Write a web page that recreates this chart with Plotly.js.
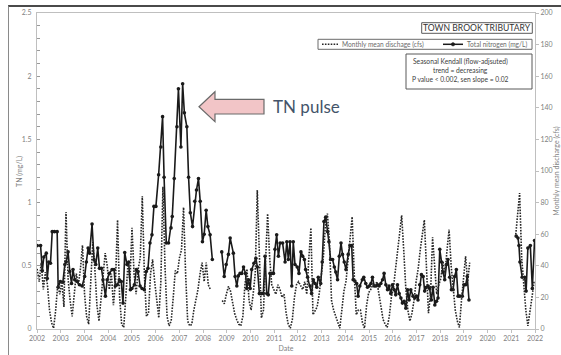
<!DOCTYPE html>
<html>
<head>
<meta charset="utf-8">
<script src="https://cdn.plot.ly/plotly-3.0.1.min.js"></script>
<style>
  html, body { margin: 0; padding: 0; background: #fff; overflow: hidden; }
  #wrap { position: relative; width: 561px; height: 355px; }
  #chart { width: 561px; height: 355px; }
  #frame { position: absolute; left: 8px; top: 5px; width: 600px; height: 400px;
           border-left: 1px solid #8a8a8a; border-top: 2px solid #4a4a4a; pointer-events: none; }
</style>
</head>
<body>
<div id="wrap"><div id="chart"></div><div id="frame"></div></div>
<script>
// ---- Axis labels -------------------------------------------------------
const xTickLabels = ['2002','2003','2004','2004','2005','2006','2007','2008','2009','2010','2011',
                     '2012','2013','2014','2015','2016','2017','2018','2019','2020','2021','2022'];

// ---- Total nitrogen (mg/L), sample dates in decimal years ---------------
const tnYearsA = [2002.09,2002.23,2002.30,2002.36,2002.46,2002.50,2002.56,2002.63,2002.70,2002.79,
  2002.90,2002.94,2003.03,2003.13,2003.21,2003.26,2003.34,2003.41,2003.48,2003.54,
  2003.61,2003.71,2003.80,2003.91,2004.01,2004.08,2004.15,2004.21,2004.31,2004.39,
  2004.46,2004.54,2004.61,2004.69,2004.75,2004.85,2004.92,2005.01,2005.12,2005.20,
  2005.25,2005.33,2005.41,2005.49,2005.56,2005.63,2005.72,2005.79,2005.86,2005.92,
  2006.02,2006.10,2006.17,2006.25,2006.33,2006.42,2006.50,2006.57,2006.65,2006.73,
  2006.81,2006.89,2007.00,2007.09,2007.16,2007.22,2007.31,2007.40,2007.50,2007.55,
  2007.63,2007.74,2007.80,2007.90,2007.97,2008.04,2008.14,2008.21,2008.28,2008.37,
  2008.46,2008.53,2008.61,2008.68,2008.77,2008.84,2008.92,2008.99,2009.08,2009.17];
const tnValuesA = [0.66,0.66,0.46,0.57,0.60,0.40,0.53,0.52,0.77,0.77,
  0.77,0.33,0.376,0.37,0.51,0.53,0.61,0.455,0.36,0.47,
  0.39,0.376,0.35,0.34,0.415,0.53,0.64,0.60,0.83,0.547,
  0.51,0.64,0.48,0.48,0.39,0.26,0.39,0.44,0.47,0.47,
  0.34,0.35,0.39,0.376,0.205,0.605,0.51,0.53,0.31,0.32,
  0.35,0.47,0.455,0.34,0.32,0.31,0.455,0.48,0.68,0.745,
  0.97,0.97,1.22,1.44,1.68,1.20,0.68,0.68,0.80,0.89,
  1.19,1.60,1.90,1.44,1.94,1.71,1.60,1.20,0.92,0.81,
  1.01,1.10,1.19,1.01,0.69,0.75,0.94,0.81,0.745,0.55];

const tnYearsB = [2009.55,2009.65,2009.73,2009.82,2009.89,2010.02,2010.09,2010.16,2010.22,2010.29,
  2010.36,2010.43,2010.51,2010.56,2010.63,2010.70,2010.76,2010.85,2010.93,2010.99,
  2011.07,2011.15,2011.23,2011.30,2011.37,2011.43,2011.50,2011.57,2011.64,2011.70,
  2011.77,2011.84,2011.91,2012.01,2012.11,2012.18,2012.24,2012.31,2012.38,2012.44,
  2012.51,2012.60,2012.67,2012.75,2012.82,2012.89,2012.94,2013.02,2013.12,2013.18,
  2013.25,2013.32,2013.39,2013.45,2013.55,2013.61,2013.68,2013.75,2013.83,2013.88,
  2013.95,2014.03,2014.10,2014.16,2014.23,2014.30,2014.37,2014.43,2014.50,2014.57,
  2014.66,2014.73,2014.80,2014.86,2014.93,2015.00,2015.06,2015.13,2015.23,2015.29,
  2015.37,2015.44,2015.51,2015.58,2015.64,2015.71,2015.78,2015.85,2015.91,2015.98,
  2016.05,2016.11,2016.18,2016.25,2016.31,2016.38,2016.45,2016.52,2016.58,2016.65,
  2016.72,2016.79,2016.85,2016.92,2016.99,2017.06,2017.12,2017.19,2017.28,2017.35,
  2017.42,2017.48,2017.55,2017.62,2017.69,2017.75,2017.82,2017.89,2017.95,2018.02,
  2018.09,2018.16,2018.23,2018.29,2018.36,2018.43,2018.49,2018.56,2018.63,2018.69,
  2018.76,2018.83,2018.90,2018.96,2019.03,2019.10,2019.17,2019.27,2019.34,2019.41,
  2019.47,2019.54];
const tnValuesB = [0.61,0.415,0.51,0.59,0.72,0.60,0.415,0.34,0.42,0.44,
  0.44,0.49,0.44,0.32,0.39,0.32,0.47,0.52,0.56,0.49,
  0.28,0.28,0.28,0.575,0.28,0.27,0.44,0.44,0.44,0.63,
  0.745,0.575,0.68,0.68,0.53,0.69,0.55,0.69,0.34,0.69,
  0.51,0.49,0.44,0.61,0.575,0.55,0.47,0.41,0.34,0.28,
  0.39,0.36,0.33,0.41,0.36,0.53,0.85,0.885,0.77,0.69,
  0.55,0.55,0.49,0.45,0.39,0.575,0.68,0.59,0.53,0.47,
  0.59,0.66,0.66,0.39,0.38,0.36,0.26,0.34,0.39,0.41,
  0.36,0.33,0.34,0.36,0.41,0.34,0.34,0.35,0.34,0.36,
  0.39,0.44,0.35,0.31,0.34,0.28,0.35,0.31,0.27,0.35,
  0.28,0.245,0.205,0.22,0.165,0.31,0.23,0.31,0.26,0.245,
  0.26,0.23,0.35,0.43,0.415,0.30,0.33,0.34,0.32,0.23,
  0.33,0.19,0.22,0.245,0.63,0.53,0.45,0.39,0.51,0.55,
  0.41,0.31,0.31,0.415,0.47,0.26,0.26,0.26,0.35,0.35,
  0.415,0.23];

const tnYearsC  = [2021.45,2021.52,2021.56,2021.60,2021.69,2021.79,2021.85,2021.92,2022.02,2022.10,2022.19];
const tnValuesC = [0.735,0.72,0.66,0.53,0.41,0.41,0.30,0.64,0.66,0.32,0.70];

// ---- Monthly mean discharge (cfs), one value per month from the start date ----
const flowStartA = 2002.09;
const flowA = [38,30,42,25,36,28,12,4,0.5,12,
  28,22,30,14,74,32,18,8,22,35,
  28,38,53,22,8,3,30,55,38,15,
  5,20,35,48,40,25,35,15,30,69,
  20,3,1,22,40,30,64,35,22,38,
  45,84,35,8,10,35,44,30,18,7,
  30,90,40,8,2,5,20,37,35,45,
  50,77,35,5,2,3,12,18,25,35,
  42,30,42,28,25];

const flowStartB = 2009.57;
const flowB = [18,16,22,27,24,17,10,6,3,2,
  8,28,38,18,12,22,35,88,40,7,
  12,38,73,45,28,25,22,28,25,20,
  22,10,3,0.5,6,20,28,30,27,25,
  30,22,45,64,9,12,14,22,32,45,
  65,73,55,18,12,8,3,0.5,12,24,
  30,45,58,71,35,9,12,12,4,0.5,
  15,23,25,28,27,30,22,14,6,3,
  1,8,20,26,38,52,64,72,50,26,
  12,5,10,18,30,38,50,60,69,40,
  10,22,58,40,22,28,32,43,35,50,
  63,40,25,12,5,1,18,30,46,30,42];

const flowStartC = 2021.42;
const flowC = [58,72,86,45,28,12,2,10,20,30];

// ---- Layout geometry -----------------------------------------------------
const W = 561, H = 355;
const M = { l: 37, r: 26, t: 13, b: 26 };
const plotW = W - M.l - M.r, plotH = H - M.t - M.b;
const fx = p => (p - M.l) / plotW;            // pixel column -> paper x
const fy = p => (M.t + plotH - p) / plotH;    // pixel row -> paper y

const axisStart = 2002.085;                   // first major unit on the date axis
const tickStep = 350 / 365.25;                // major unit of 350 days
const tickVals = xTickLabels.map((_, i) => axisStart + i * tickStep);
const axisEnd = axisStart + (xTickLabels.length - 1) * tickStep;

const monthly = (start, vals) => vals.map((_, i) => start + i / 12);

const FONT = 'Lato, "Open Sans", "DejaVu Sans", sans-serif';
const AXIS_GREY = '#bfbfbf', LABEL_GREY = '#7f7f7f', INK = '#1a1a1a';

const flowStyle = { color: '#262626', width: 1.6, dash: '1.6px,1.3px' };
const tnLine = { color: INK, width: 1.6 };
const tnMarker = { size: 3.6, color: INK };

const flowTrace = (start, vals) => ({
  x: monthly(start, vals), y: vals, yaxis: 'y2', type: 'scatter', mode: 'lines',
  line: flowStyle, showlegend: false, hoverinfo: 'skip'
});
const tnTrace = (xs, ys) => ({
  x: xs, y: ys, type: 'scatter', mode: 'lines+markers',
  line: tnLine, marker: tnMarker, showlegend: false, hoverinfo: 'skip'
});

const data = [
  flowTrace(flowStartA, flowA), flowTrace(flowStartB, flowB), flowTrace(flowStartC, flowC),
  tnTrace(tnYearsA, tnValuesA), tnTrace(tnYearsB, tnValuesB), tnTrace(tnYearsC, tnValuesC)
];

// ---- Boxes, custom legend and call-out arrow ------------------------------
const rect = (x0, y0, x1, y1, color) => ({
  type: 'rect', xref: 'paper', yref: 'paper',
  x0: fx(x0), x1: fx(x1), y0: fy(y1), y1: fy(y0),
  line: { color: color, width: 1 }, fillcolor: '#ffffff', layer: 'above'
});
const hline = (x0, x1, y, line) => ({
  type: 'line', xref: 'paper', yref: 'paper',
  x0: fx(x0), x1: fx(x1), y0: fy(y), y1: fy(y), line: line, layer: 'above'
});

const arrowPts = [[199,106.7],[215,91.7],[215,99.3],[264,99.3],[264,114],[215,114],[215,121.7]];
const arrowPath = 'M' + arrowPts.map(p => fx(p[0]).toFixed(4) + ',' + fy(p[1]).toFixed(4)).join(' L') + ' Z';

const shapes = [
  rect(421.7, 22.7, 532.3, 33.3, '#595959'),
  rect(318, 39.3, 532, 49.3, '#6b6b6b'),
  rect(406, 54, 532, 89, '#595959'),
  hline(322, 338, 44.3, flowStyle),
  hline(443, 463, 44.3, { color: INK, width: 1.5 }),
  { type: 'circle', xref: 'paper', yref: 'paper', layer: 'above',
    x0: fx(451.3), x1: fx(454.7), y0: fy(46), y1: fy(42.6),
    fillcolor: INK, line: { color: INK, width: 0.5 } },
  { type: 'path', xref: 'paper', yref: 'paper', path: arrowPath, layer: 'above',
    fillcolor: '#f2c5c7', line: { color: '#6a6a6a', width: 1.2 } }
];

const note = (text, x, y, size, color, anchor, angle) => ({
  text: text, xref: 'paper', yref: 'paper', x: fx(x), y: fy(y),
  xanchor: anchor || 'center', yanchor: 'middle', showarrow: false, textangle: angle || 0,
  font: { family: FONT, size: size, color: color }
});

const annotations = [
  note('TOWN BROOK TRIBUTARY', 477, 28.2, 8.6, '#333333'),
  note('Monthly mean dischage (cfs)', 340, 44.3, 6.6, '#6b6b6b', 'left'),
  note('Total nitrogen (mg/L)', 465, 44.3, 6.6, '#6b6b6b', 'left'),
  note('Seasonal Kendall (flow-adjsuted)', 460, 61.7, 6.7, '#404040'),
  note('trend = decreasing', 460, 70.3, 6.7, '#404040'),
  note('P value < 0.002, sen slope = 0.02', 460, 79.5, 6.7, '#404040'),
  note('TN pulse', 271, 106.5, 17, '#44546a', 'left'),
  note('TN (mg/L)', 19, 172, 7, LABEL_GREY, 'center', -90)
];

const layout = {
  width: W, height: H,
  margin: M,
  paper_bgcolor: '#ffffff', plot_bgcolor: '#ffffff',
  font: { family: FONT, size: 7, color: LABEL_GREY },
  showlegend: false,
  xaxis: {
    range: [axisStart, axisEnd], tickvals: tickVals, ticktext: xTickLabels,
    showline: true, mirror: true, linecolor: AXIS_GREY, linewidth: 1,
    ticks: 'outside', ticklen: 3, tickcolor: AXIS_GREY,
    showgrid: false, zeroline: false, automargin: false,
    tickfont: { family: FONT, size: 7, color: LABEL_GREY },
    title: { text: 'Date', font: { family: FONT, size: 7, color: LABEL_GREY }, standoff: 4 }
  },
  yaxis: {
    range: [0, 2.5], dtick: 0.5, tick0: 0,
    showline: true, linecolor: AXIS_GREY, linewidth: 1,
    ticks: 'inside', ticklen: 3, tickcolor: '#9a9a9a',
    minor: { dtick: 0.1, ticks: 'inside', ticklen: 3, tickcolor: '#9a9a9a' },
    showgrid: false, zeroline: false, automargin: false, ticklabelstandoff: 3,
    tickfont: { family: FONT, size: 7, color: LABEL_GREY }
  },
  yaxis2: {
    overlaying: 'y', side: 'right', range: [0, 200], dtick: 20, tick0: 0,
    showline: true, linecolor: AXIS_GREY, linewidth: 1,
    ticks: 'outside', ticklen: 3, tickcolor: AXIS_GREY,
    showgrid: false, zeroline: false, automargin: false,
    tickfont: { family: FONT, size: 7, color: LABEL_GREY },
    title: { text: 'Monthly mean discharge (cfs)', font: { family: FONT, size: 7, color: LABEL_GREY }, standoff: 2 }
  },
  shapes: shapes,
  annotations: annotations
};

Plotly.newPlot('chart', data, layout, { staticPlot: true, displayModeBar: false });
</script>
</body>
</html>
